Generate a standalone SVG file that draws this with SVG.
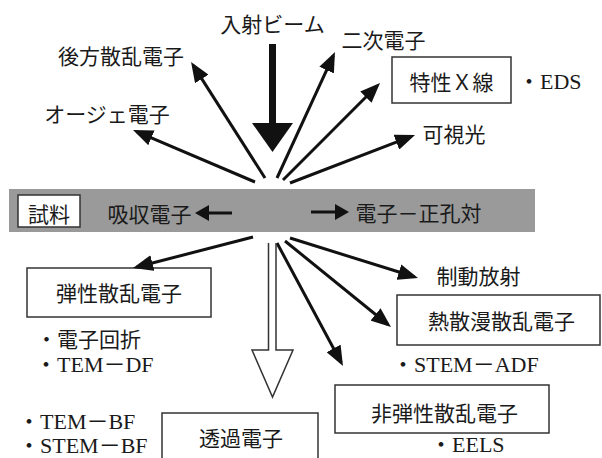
<svg xmlns="http://www.w3.org/2000/svg" width="602" height="458" viewBox="0 0 602 458">
<style>
text{font-family:"Liberation Serif","Noto Sans CJK JP",serif;font-size:21px;fill:#1a1a1a}
.m{text-anchor:middle}
.l{font-size:22px}
.box{fill:#fff;stroke:#333;stroke-width:1.5}
.ar{stroke:#111;stroke-width:3;fill:none;marker-end:url(#ah)}
.sa{stroke:#111;stroke-width:3;fill:none;marker-end:url(#sh)}
</style>
<defs>
<marker id="ah" markerUnits="userSpaceOnUse" markerWidth="20" markerHeight="16" refX="16" refY="8" orient="auto">
<path d="M0,0 L20,8 L0,16 z" fill="#111"/>
</marker>
<marker id="sh" markerUnits="userSpaceOnUse" markerWidth="14" markerHeight="16" refX="10" refY="8" orient="auto">
<path d="M0,0 L14,8 L0,16 z" fill="#111"/>
</marker>
</defs>
<rect width="602" height="458" fill="#fff"/>
<g id="sample-bar">
<rect x="9" y="189" width="526" height="43" fill="#9a9a9a"/>
</g>
<g id="sample">
<rect class="box" x="18" y="195" width="62" height="32"/>
<text class="m" x="49" y="221.5">試料</text>
</g>
<g id="absorbed">
<text class="m" x="149.5" y="221.5">吸収電子</text>
</g>
<g id="pair">
<text class="m" x="418.5" y="220.5">電子－正孔対</text>
</g>
<g id="incident">
<text class="m" x="272.5" y="32">入射ビーム</text>
</g>
<g id="backscatter">
<text class="m" x="121" y="63.5">後方散乱電子</text>
</g>
<g id="auger">
<text class="m" x="107" y="121.5">オージェ電子</text>
</g>
<g id="secondary">
<text class="m" x="383.5" y="47.5">二次電子</text>
</g>
<g id="xray">
<rect class="box" x="392" y="57" width="119" height="46"/>
<text class="m" x="451.5" y="89.5">特性Ｘ線</text>
<text class="l" x="518" y="89">・EDS</text>
</g>
<g id="visible">
<text class="m" x="454" y="141.5">可視光</text>
</g>
<g id="bremsstrahlung">
<text class="m" x="478.5" y="283.5">制動放射</text>
</g>
<g id="elastic">
<rect class="box" x="27" y="268" width="184" height="49"/>
<text class="m" x="119" y="301">弾性散乱電子</text>
<text x="36" y="346.5">・電子回折</text>
<text class="l" x="35" y="372">・TEM－DF</text>
</g>
<g id="transmitted">
<rect class="box" x="162" y="413" width="156" height="50"/>
<text class="m" x="241" y="445.5">透過電子</text>
<text class="l" x="18" y="429">・TEM－BF</text>
<text class="l" x="18" y="453">・STEM－BF</text>
</g>
<g id="thermal">
<rect class="box" x="397" y="295" width="203" height="50"/>
<text class="m" x="501.5" y="328.5">熱散漫散乱電子</text>
<text class="l" x="392" y="371.5">・STEM－ADF</text>
</g>
<g id="inelastic">
<rect class="box" x="335" y="385" width="214" height="48"/>
<text class="m" x="444.5" y="420.5">非弾性散乱電子</text>
<text class="l" x="430" y="452">・EELS</text>
</g>
<g id="connectors">
<rect x="269" y="44" width="7" height="80" fill="#111"/>
<polygon points="252,123 293,123 272.5,152" fill="#111"/>
<line class="ar" x1="265" y1="178" x2="193.2" y2="65.4"/>
<line class="ar" x1="255" y1="182" x2="136.7" y2="131.6"/>
<line class="ar" x1="277" y1="178" x2="333.3" y2="55.6"/>
<line class="ar" x1="283" y1="180" x2="377.2" y2="85.8"/>
<line class="ar" x1="290" y1="183" x2="411.3" y2="136.4"/>
<line class="sa" x1="232" y1="213" x2="199" y2="213"/>
<line class="sa" x1="311" y1="212" x2="345" y2="212"/>
<line class="ar" x1="253" y1="237" x2="136.9" y2="267"/>
<line class="ar" x1="277" y1="243" x2="341.1" y2="362.5"/>
<line class="ar" x1="285" y1="241" x2="387.9" y2="324.5"/>
<line class="ar" x1="290" y1="238" x2="414.2" y2="276.8"/>
<polyline points="268.5,243 268.5,350 252,350 272.5,397 293,350 276,350 276,243" fill="#fff" stroke="#333" stroke-width="1.5"/>
</g>
</svg>
